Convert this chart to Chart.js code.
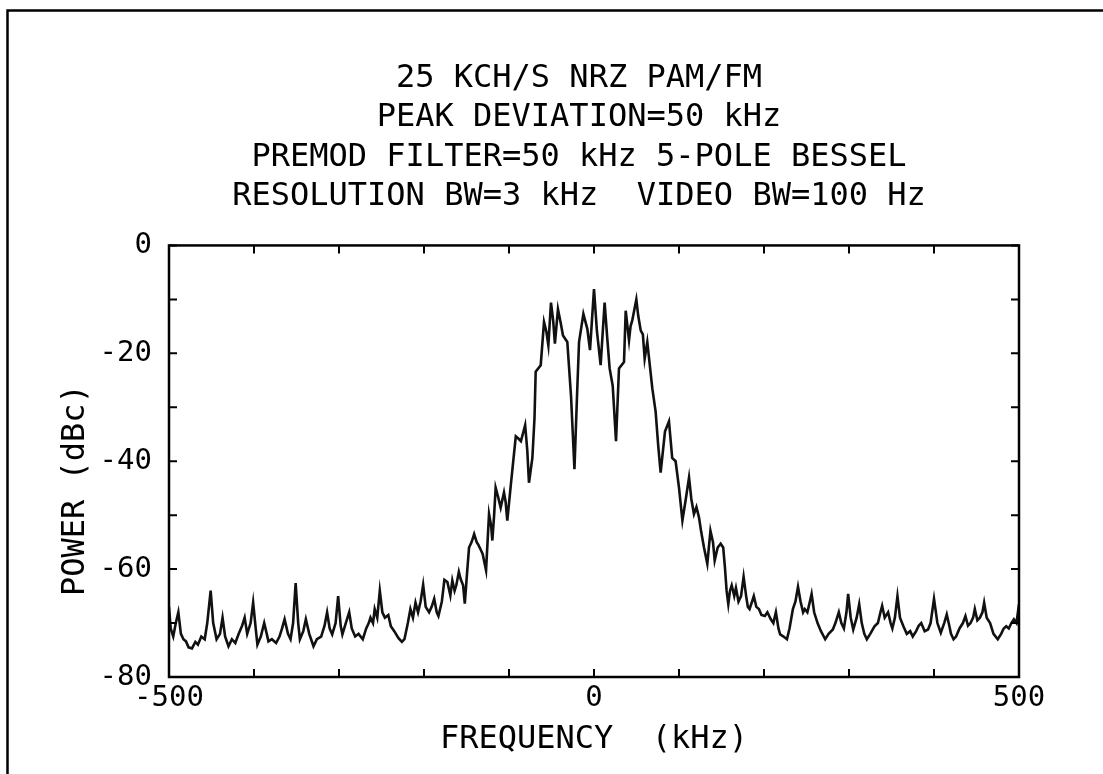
<!DOCTYPE html>
<html lang="en">
<head>
    <meta charset="UTF-8">
    <title>25 KCH/S NRZ PAM/FM spectrum</title>
    <script src="https://cdn.jsdelivr.net/npm/chart.js"></script>
    <style>
        html, body { margin: 0; padding: 0; background: #fff; }
        #wrap { width: 1103px; height: 774px; }
    </style>
</head>
<body>
    <div id="wrap"><canvas id="spectrumChart" width="1103" height="774"></canvas></div>

    <script>
        // Spectrum trace (kHz, dBc), rows of 10
        const freqKHz = [
            -500, -498, -495, -492, -489, -486, -483, -480, -477, -473,
            -469, -466, -462, -458, -455, -451, -448, -444, -440, -437,
            -434, -430, -426, -422, -418, -414, -411, -408, -404, -401,
            -398, -396, -392, -388, -385, -383, -379, -374, -370, -367,
            -364, -360, -357, -354, -351, -348, -346, -342, -339, -335,
            -330, -326, -321, -317, -314, -311, -308, -304, -301, -298,
            -296, -292, -288, -285, -281, -277, -272, -268, -265, -263,
            -260, -258, -255, -252, -249, -246, -242, -239, -235, -230,
            -226, -223, -219, -216, -213, -210, -207, -204, -201, -198,
            -194, -191, -188, -185, -183, -179, -176, -172.5, -169, -166.7,
            -164, -162, -159, -157, -154, -152, -149, -147, -144, -141,
            -138, -136, -133, -131, -127, -123.5, -121, -119.6, -117.5, -115.7,
            -113, -109.8, -105.9, -104, -102, -98, -95, -92, -89, -86,
            -81, -78.5, -76.5, -72.5, -70, -68.6, -62.7, -58.8, -56, -53.7,
            -50.6, -48, -46, -42.4, -39, -36.5, -31.4, -27, -23, -20,
            -17.6, -12.5, -7.8, -4.7, 0, 3.5, 7.8, 12.5, 15.5, 18.4,
            22, 25.9, 29.4, 35.3, 37.3, 41.2, 43, 45, 49.8, 52,
            55, 57.5, 59.6, 62.7, 68.6, 72.5, 75.5, 78.4, 83.5, 88.2,
            92, 96, 100, 104, 108, 111.8, 114.5, 117.6, 120.5, 123.5,
            126, 129.4, 133.3, 137, 140, 142, 145.5, 149, 152, 154,
            156, 158, 160, 162, 165, 167, 170, 173, 176, 179,
            181, 183, 186, 188, 191, 194, 197, 201, 204, 208,
            211, 214, 217, 219, 223, 227, 230, 234, 237, 240,
            243, 246, 248, 251, 254, 256, 259, 263, 267, 272,
            276, 281, 284, 288, 291, 294, 297, 299, 302, 305,
            309, 312, 315, 318, 321, 325, 330, 334, 337, 339,
            342, 346, 349, 351, 354, 357, 360, 364, 368, 372,
            375, 379, 382, 385, 389, 393, 396, 400, 404, 408,
            412, 415, 418, 420, 423, 426, 430, 434, 437, 440,
            443, 446, 448, 451, 454, 457, 459, 462, 466, 470,
            475, 479, 482, 485, 488, 491, 494, 497, 500
        ];
        const powerDbc = [
            -67, -71, -72.5, -70, -68, -72, -73, -73.4, -74.5, -74.7,
            -73.5, -74, -72.5, -73, -70, -64, -70, -73, -72, -69,
            -72.5, -74.3, -73, -73.7, -72, -70.5, -69, -72, -70, -66.2,
            -71, -74, -72.5, -70, -72, -73.4, -73, -73.7, -72.5, -71,
            -69.3, -72, -73, -70, -62.6, -70, -73, -71.5, -69.3, -72,
            -74.3, -73, -72.5, -70.5, -68, -71, -72.1, -70, -65, -70.5,
            -72.1, -70, -68, -71, -72.5, -72, -73, -71, -70, -69,
            -70, -67.4, -69, -64, -68, -69, -68.5, -70.6, -71.5, -72.8,
            -73.5, -73, -70, -67.4, -69, -66.2, -68, -66, -62.9, -67,
            -68, -67, -65.5, -68, -68.7, -66, -62, -62.4, -64.9, -62.1,
            -64, -63, -60.5, -61.8, -63, -66.4, -60, -56, -55, -53.5,
            -55, -55.5, -56.5, -57.2, -60.2, -49.8, -52, -54.7, -50, -44.9,
            -46.5, -48.6, -45.8, -47.5, -51, -44.6, -40, -35.4, -35.8, -36.3,
            -33.3, -38, -44, -39.4, -32, -23.4, -22.2, -14.2, -16, -18.5,
            -10.6, -14, -18.2, -11.8, -14.5, -16.7, -17.9, -28, -41.5, -28,
            -17.9, -12.7, -15.5, -19.4, -8.1, -16, -22.2, -10.6, -17, -22.8,
            -26, -36.3, -22.8, -21.6, -12.1, -17.6, -15, -13.9, -10, -13,
            -15.8, -16.5, -21, -17.9, -26.5, -30.8, -37, -42.1, -34.5, -32.6,
            -39.4, -40, -44.9, -51, -47, -43, -47, -49.8, -48.5, -50.4,
            -53, -56, -59, -52.9, -55, -58.4, -56, -55.3, -56, -59.6,
            -64, -66.5, -64, -63, -65, -63.5, -66, -65, -61.4, -65,
            -67, -67.4, -66, -65, -67, -67.4, -68.5, -68.7, -68, -69.3,
            -70, -68, -71, -72.1, -72.5, -73, -71, -67.4, -66, -63.3,
            -66, -68, -67.4, -68, -66, -64.6, -68, -70, -71.5, -73,
            -72, -71.2, -70, -68, -70, -71, -68, -64.6, -69, -71.2,
            -69, -66.5, -70, -72, -73, -72, -70.6, -70, -68, -66.8,
            -69, -68, -70, -71, -69, -65, -69, -70.6, -72, -71.5,
            -72.5, -71.5, -70.5, -70, -71.5, -71.2, -70, -65.5, -70, -71.8,
            -70, -68.4, -70.5, -72, -73, -72.5, -71, -70, -68.7, -70.5,
            -70, -69, -67.4, -69.5, -69, -68, -66.2, -69, -70, -72,
            -73, -72, -71, -70.6, -71, -70, -69.3, -70, -66.5
        ];

        // Axis labels that are printed (other ticks are marks only)
        const xLabelled = [-500, 0, 500];
        const yLabelled = [0, -20, -40, -60, -80];

        const titleLines = [
            '25 KCH/S NRZ PAM/FM',
            'PEAK DEVIATION=50 kHz',
            'PREMOD FILTER=50 kHz 5-POLE BESSEL',
            'RESOLUTION BW=3 kHz  VIDEO BW=100 Hz'
        ];

        Chart.defaults.font.family = "'DejaVu Sans Mono', monospace";
        Chart.defaults.color = '#000';

        // plot frame, inward tick marks and the page border of the scan
        const framePlugin = {
            id: 'frame',
            beforeDraw(chart) {
                const ctx = chart.ctx;
                ctx.save();
                ctx.strokeStyle = '#000';
                ctx.lineWidth = 2.5;
                ctx.beginPath();
                ctx.moveTo(7.5, chart.height);
                ctx.lineTo(7.5, 10.5);
                ctx.lineTo(chart.width, 10.5);
                ctx.stroke();
                ctx.restore();
            },
            afterDraw(chart) {
                const { ctx, chartArea: a, scales: { x, y } } = chart;
                const len = 8;
                ctx.save();
                ctx.strokeStyle = '#000';
                ctx.lineWidth = 2.5;
                ctx.strokeRect(a.left, a.top, a.right - a.left, a.bottom - a.top);
                ctx.lineWidth = 2;
                ctx.beginPath();
                x.ticks.forEach(t => {
                    const px = x.getPixelForValue(t.value);
                    ctx.moveTo(px, a.bottom); ctx.lineTo(px, a.bottom - len);
                    ctx.moveTo(px, a.top); ctx.lineTo(px, a.top + len);
                });
                y.ticks.forEach(t => {
                    const py = y.getPixelForValue(t.value);
                    ctx.moveTo(a.left, py); ctx.lineTo(a.left + len, py);
                    ctx.moveTo(a.right, py); ctx.lineTo(a.right - len, py);
                });
                ctx.stroke();
                ctx.restore();
            }
        };

        const ctx = document.getElementById('spectrumChart').getContext('2d');
        new Chart(ctx, {
            type: 'line',
            data: {
                datasets: [{
                    data: freqKHz.map((f, i) => ({ x: f, y: powerDbc[i] })),
                    borderColor: '#111',
                    borderWidth: 2.6,
                    pointRadius: 0,
                    tension: 0,
                    fill: false
                }]
            },
            options: {
                responsive: false,
                animation: false,
                devicePixelRatio: 1,
                layout: { padding: { left: 56, right: 1, top: 0, bottom: 15 } },
                scales: {
                    x: {
                        type: 'linear',
                        min: -500,
                        max: 500,
                        grid: { display: false, drawTicks: false },
                        border: { display: false },
                        ticks: {
                            stepSize: 100,
                            autoSkip: false,
                            maxRotation: 0,
                            padding: 4,
                            font: { size: 29 },
                            callback: v => xLabelled.includes(v) ? String(v) : ''
                        },
                        title: {
                            display: true,
                            text: 'FREQUENCY  (kHz)',
                            font: { size: 32 },
                            padding: 0
                        },
                        afterFit: s => { s.height = 82; }
                    },
                    y: {
                        min: -80,
                        max: 0,
                        grid: { display: false, drawTicks: false },
                        border: { display: false },
                        ticks: {
                            stepSize: 10,
                            autoSkip: false,
                            padding: 17,
                            font: { size: 29 },
                            callback: v => yLabelled.includes(v) ? String(v) : ''
                        },
                        title: {
                            display: true,
                            text: 'POWER (dBc)   ',
                            font: { size: 32 },
                            padding: 0
                        },
                        afterFit: s => { s.width = 113; }
                    },
                    y2: {
                        position: 'right',
                        min: -80,
                        max: 0,
                        grid: { display: false, drawTicks: false },
                        border: { display: false },
                        ticks: { display: false },
                        afterFit: s => { s.width = 83; }
                    }
                },
                plugins: {
                    legend: { display: false },
                    tooltip: { enabled: false },
                    title: {
                        display: true,
                        text: titleLines,
                        color: '#000',
                        font: { size: 32, weight: 'normal', lineHeight: 1.23 },
                        padding: { top: 59, bottom: 29 }
                    }
                }
            },
            plugins: [framePlugin]
        });
    </script>
</body>
</html>
